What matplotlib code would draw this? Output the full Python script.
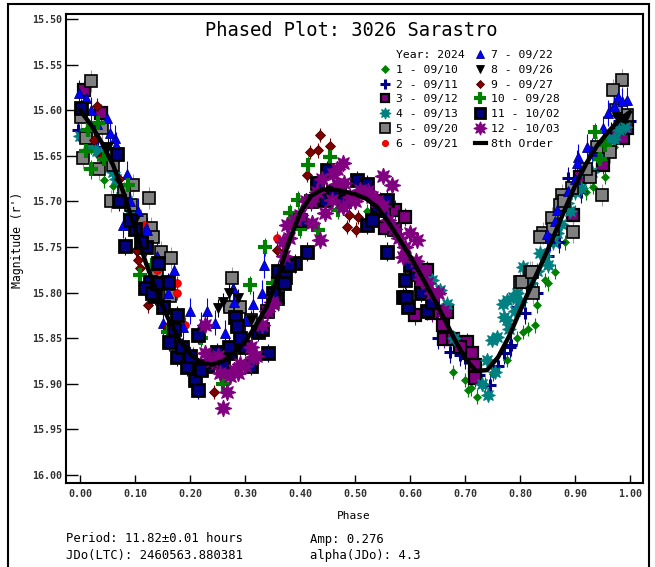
import matplotlib
matplotlib.use("Agg")
import matplotlib.pyplot as plt
from matplotlib.lines import Line2D
from matplotlib.patches import Rectangle

plt.rcParams['font.family'] = ['DejaVu Sans Mono']

# session labels (Year: 2024)
labels = ["1 - 09/10", "2 - 09/11", "3 - 09/12", "4 - 09/13", "5 - 09/20", "6 - 09/21",
          "7 - 09/22", "8 - 09/26", "9 - 09/27", "10 - 09/28", "11 - 10/02", "12 - 10/03"]

# phase / magnitude, one pair of lists per session
p1 = [0.678, 0.70, 0.705, 0.722, 0.736, 0.776, 0.795, 0.805, 0.827, 0.831, 0.845, 0.864, 0.882, 0.933, 0.955,
      0.044, 0.060, 0.081, 0.521, 0.71, 0.75, 0.815, 0.85, 0.90, 0.92, 0.97, 0.99, 0.02, 0.03]
m1 = [15.887, 15.896, 15.907, 15.914, 15.901, 15.874, 15.85, 15.843, 15.836, 15.814, 15.786, 15.777, 15.745, 15.684, 15.673,
      15.677, 15.683, 15.700, 15.711, 15.905, 15.889, 15.840, 15.790, 15.712, 15.690, 15.640, 15.628, 15.640, 15.648]

p2 = [0.651, 0.673, 0.745, 0.782, 0.795, 0.809, 0.783, 0.887, 1.0, -0.004, 0.62, 0.70, 0.725, 0.76, 0.77,
      0.83, 0.85, 0.87, 0.91, 0.94, 0.965, 0.98, 0.01, 0.03, 0.69]
m2 = [15.85, 15.865, 15.901, 15.86, 15.816, 15.822, 15.857, 15.674, 15.612, 15.622, 15.790, 15.872, 15.890, 15.880, 15.866,
      15.800, 15.760, 15.745, 15.690, 15.650, 15.625, 15.612, 15.625, 15.640, 15.868]

p3 = [0.555, 0.573, 0.591, 0.609, 0.631, 0.64, 0.66, 0.661, 0.667, 0.678, 0.704, 0.713, 0.718, 0.719,
      0.896, 0.909, 0.951, 0.976, 0.987, 0.007, 0.038, 0.62, 0.69, 0.545, 0.995]
m3 = [15.729, 15.709, 15.717, 15.825, 15.775, 15.822, 15.835, 15.851, 15.821, 15.851, 15.854, 15.866, 15.879, 15.894,
      15.715, 15.673, 15.660, 15.627, 15.630, 15.578, 15.603, 15.79, 15.86, 15.70, 15.62]

p4 = [0.64, 0.655, 0.667, 0.74, 0.742, 0.749, 0.755, 0.758, 0.769, 0.770, 0.776, 0.777, 0.787, 0.795, 0.805, 0.818,
      0.836, 0.867, 0.885, 0.90, 0.92, 0.94, 0.96, 0.98, 0.0, 0.02, 0.04, 0.06, 0.075, 0.09, 0.11, 0.73, 0.81, 0.85, 0.68,
      0.78, 0.79, 0.80, 0.82, 0.83, 0.845, 0.86, 0.875, 0.89, 0.91, 0.93, 0.95, 0.97, 0.99, 0.015, 0.03, 0.05, 0.065,
      0.085, 0.10]
m4 = [15.786, 15.797, 15.812, 15.874, 15.912, 15.852, 15.887, 15.849, 15.812, 15.827, 15.830, 15.808, 15.805, 15.800,
      15.772, 15.779, 15.757, 15.735, 15.702, 15.690, 15.668, 15.650, 15.632, 15.622, 15.628, 15.640, 15.650, 15.668,
      15.695, 15.715, 15.740, 15.900, 15.790, 15.770, 15.850,
      15.840, 15.820, 15.810, 15.790, 15.776, 15.760, 15.745, 15.725, 15.710, 15.685, 15.668, 15.645, 15.632, 15.618,
      15.630, 15.645, 15.655, 15.675, 15.700, 15.725]

p5 = [0.985, 0.969, 0.995, 0.964, 0.927, 0.949, 0.895, 0.876, 0.873, 0.858, 0.896, 0.842, 0.818, 0.80, 0.804, 0.822,
      0.824, 0.836, 0.02, 0.002, 0.005, 0.035, 0.056, 0.093, 0.096, 0.125, 0.129, 0.133, 0.147, 0.165, 0.164, 0.276,
      0.273, 0.291, 0.31, 0.01, 0.04, 0.06, 0.08, 0.11, 0.14, 0.92, 0.94, 0.975, 0.86, 0.88]
m5 = [15.567, 15.578, 15.605, 15.646, 15.673, 15.693, 15.685, 15.693, 15.704, 15.718, 15.734, 15.735, 15.777, 15.788,
      15.788, 15.777, 15.80, 15.739, 15.568, 15.607, 15.652, 15.665, 15.70, 15.704, 15.682, 15.696, 15.729, 15.739,
      15.755, 15.762, 15.804, 15.784, 15.816, 15.816, 15.83, 15.63, 15.62, 15.66, 15.69, 15.72, 15.78, 15.665, 15.64,
      15.60, 15.73, 15.70]

p6 = [0.116, 0.124, 0.176, 0.177, 0.358, 0.14, 0.19, 0.205, 0.235, 0.30]
m6 = [15.726, 15.748, 15.79, 15.80, 15.74, 15.775, 15.835, 15.868, 15.875, 15.85]

p7 = [-0.002, 0.011, 0.049, 0.064, 0.065, 0.078, 0.12, 0.122, 0.17, 0.151, 0.187, 0.245, 0.264, 0.278, 0.315, 0.978,
      0.995, 0.96, 0.922, 0.905, 0.904, 0.887, 0.867, 0.864, 0.849, 0.855, 0.09, 0.2, 0.23, 0.3, 0.33, 0.335,
      0.02, 0.03, 0.055, 0.085, 0.105, 0.14, 0.16, 0.9, 0.93, 0.95, 0.97, 0.985, 0.22, 0.28]
m7 = [15.581, 15.587, 15.609, 15.63, 15.638, 15.726, 15.729, 15.731, 15.775, 15.833, 15.838, 15.833, 15.844, 15.795,
      15.812, 15.585, 15.589, 15.603, 15.64, 15.651, 15.658, 15.689, 15.709, 15.722, 15.736, 15.74, 15.70, 15.82, 15.82,
      15.83, 15.80, 15.77, 15.60, 15.615, 15.625, 15.67, 15.71, 15.76, 15.80, 15.675, 15.645, 15.62, 15.595, 15.59,
      15.835, 15.81]

p8 = [0.976, 0.251, 0.287, 0.26, 0.27, 0.10, 0.05, 0.99, 0.31]
m8 = [15.607, 15.817, 15.806, 15.81, 15.80, 15.72, 15.64, 15.61, 15.83]

p9 = [0.031, 0.025, 0.038, 0.102, 0.105, 0.109, 0.103, 0.124, 0.158, 0.244, 0.358, 0.413, 0.418, 0.433, 0.436, 0.455,
      0.485, 0.502, 0.489, 0.505, 0.19, 0.21, 0.33, 0.37, 0.07]
m9 = [15.595, 15.633, 15.651, 15.753, 15.764, 15.773, 15.753, 15.814, 15.838, 15.909, 15.753, 15.671, 15.646, 15.644,
      15.627, 15.639, 15.728, 15.731, 15.715, 15.717, 15.86, 15.88, 15.84, 15.755, 15.675]

p10 = [0.015, 0.033, 0.011, 0.02, 0.044, 0.087, 0.109, 0.16, 0.309, 0.336, 0.415, 0.455, 0.382, 0.396, 0.431, 0.433,
       0.469, 0.936, 0.955, 0.945, 0.22, 0.26, 0.29, 0.35, 0.36, 0.13, 0.4]
m10 = [15.622, 15.614, 15.645, 15.665, 15.654, 15.682, 15.781, 15.843, 15.792, 15.75, 15.66, 15.651, 15.713, 15.699,
       15.68, 15.731, 15.709, 15.624, 15.638, 15.654, 15.85, 15.90, 15.86, 15.79, 15.81, 15.77, 15.73]

p11 = [0.002, 0.067, 0.082, 0.142, 0.127, 0.16, 0.118, 0.136, 0.151, 0.176, 0.161, 0.177, 0.194, 0.209, 0.214, 0.215,
       0.282, 0.285, 0.249, 0.273, 0.342, 0.324, 0.36, 0.449, 0.504, 0.521, 0.445, 0.558, 0.551, 0.522, 0.413, 0.391,
       0.373, 0.358, 0.587, 0.559, 0.591, 0.597, 0.592, 0.23, 0.26, 0.30, 0.31, 0.35, 0.40, 0.43, 0.47, 0.53, 0.61,
       0.63, 0.10, 0.12, 0.09, 0.13, 0.14, 0.17, 0.185, 0.20, 0.22, 0.24, 0.27, 0.29, 0.33, 0.34, 0.37, 0.38, 0.42,
       0.46, 0.48, 0.54, 0.57, 0.60, 0.62, 0.64, 0.07, 0.11]
m11 = [15.598, 15.648, 15.749, 15.768, 15.788, 15.788, 15.795, 15.804, 15.816, 15.825, 15.854, 15.871, 15.882, 15.896,
       15.907, 15.846, 15.827, 15.837, 15.865, 15.866, 15.866, 15.843, 15.776, 15.666, 15.677, 15.681, 15.698, 15.698,
       15.709, 15.726, 15.755, 15.768, 15.783, 15.806, 15.805, 15.755, 15.786, 15.816, 15.805, 15.88, 15.88, 15.86,
       15.88, 15.80, 15.72, 15.68, 15.69, 15.72, 15.78, 15.82, 15.73, 15.75, 15.72, 15.80, 15.79, 15.84, 15.86, 15.87,
       15.885, 15.875, 15.86, 15.85, 15.84, 15.82, 15.79, 15.77, 15.70, 15.69, 15.70, 15.705, 15.73, 15.77, 15.80,
       15.81, 15.70, 15.745]

p12 = [0.227, 0.228, 0.255, 0.273, 0.287, 0.267, 0.26, 0.315, 0.349, 0.467, 0.478, 0.551, 0.567, 0.509, 0.524, 0.468,
       0.458, 0.445, 0.436, 0.422, 0.376, 0.369, 0.479, 0.6, 0.613, 0.587, 0.618, 0.631, 0.351, 0.30, 0.33, 0.39, 0.41,
       0.43, 0.50, 0.54, 0.58, 0.65, 0.66, 0.24, 0.28, 0.32, 0.37, 0.38, 0.40, 0.42, 0.44, 0.46, 0.48, 0.49, 0.51,
       0.53, 0.55, 0.56, 0.57, 0.59, 0.61, 0.62, 0.64, 0.25, 0.29, 0.31, 0.34]
m12 = [15.835, 15.866, 15.888, 15.892, 15.888, 15.909, 15.927, 15.871, 15.81, 15.664, 15.658, 15.672, 15.682, 15.687,
       15.689, 15.681, 15.699, 15.713, 15.742, 15.724, 15.726, 15.745, 15.706, 15.735, 15.742, 15.761, 15.775, 15.79,
       15.812, 15.88, 15.835, 15.72, 15.70, 15.69, 15.70, 15.70, 15.74, 15.80, 15.82, 15.875, 15.885, 15.87, 15.76,
       15.74, 15.715, 15.70, 15.675, 15.67, 15.68, 15.695, 15.69, 15.695, 15.705, 15.72, 15.73, 15.75, 15.765, 15.785,
       15.80, 15.87, 15.878, 15.86, 15.82]

# typical error bar per session
errs = [0.008, 0.012, 0.010, 0.008, 0.012, 0.008, 0.014, 0.010, 0.008, 0.010, 0.010, 0.008]

# 8th order fit
fit_phase = [0.00, 0.02, 0.04, 0.06, 0.08, 0.10, 0.12, 0.14, 0.16, 0.18, 0.20, 0.22, 0.24, 0.26, 0.28, 0.30, 0.32,
             0.34, 0.36, 0.38, 0.40, 0.42, 0.44, 0.46, 0.48, 0.50, 0.52, 0.54, 0.56, 0.58, 0.60, 0.62, 0.64, 0.66,
             0.68, 0.70, 0.72, 0.74, 0.76, 0.78, 0.80, 0.82, 0.84, 0.86, 0.88, 0.90, 0.92, 0.94, 0.96, 0.98, 1.00]
fit_mag = [15.600, 15.616, 15.636, 15.660, 15.692, 15.730, 15.768, 15.800, 15.828, 15.851, 15.867, 15.877, 15.879,
           15.875, 15.866, 15.854, 15.836, 15.815, 15.782, 15.744, 15.713, 15.694, 15.687, 15.687, 15.689, 15.692,
           15.697, 15.706, 15.722, 15.741, 15.760, 15.781, 15.803, 15.826, 15.850, 15.872, 15.886, 15.885, 15.871,
           15.848, 15.820, 15.793, 15.767, 15.740, 15.711, 15.683, 15.659, 15.639, 15.624, 15.611, 15.602]

phases = [p1, p2, p3, p4, p5, p6, p7, p8, p9, p10, p11, p12]
mags = [m1, m2, m3, m4, m5, m6, m7, m8, m9, m10, m11, m12]

star = (8, 1, 0)
styles = [
    dict(marker='D', ms=4.5, mfc='#008000', mec='#008000', mew=0.5),
    dict(marker='+', ms=9, mfc='#00008b', mec='#00008b', mew=2.2),
    dict(marker='s', ms=8, mfc='#800080', mec='black', mew=1.6),
    dict(marker=star, ms=10, mfc='#008080', mec='#008080', mew=0.8),
    dict(marker='s', ms=8.5, mfc='#808080', mec='black', mew=1.2),
    dict(marker='o', ms=5.5, mfc='#ff0000', mec='#c00000', mew=0.6),
    dict(marker='^', ms=7.5, mfc='#0000ff', mec='#000080', mew=0.6),
    dict(marker='v', ms=7.5, mfc='black', mec='black', mew=0.6),
    dict(marker='D', ms=5.5, mfc='#800000', mec='#400000', mew=0.6),
    dict(marker='+', ms=10, mfc='#008000', mec='#008000', mew=3),
    dict(marker='s', ms=9, mfc='#000080', mec='black', mew=2),
    dict(marker=star, ms=12, mfc='#800080', mec='#800080', mew=0.8),
]
ecolors = ['#008000', '#00008b', '#800080', '#008080', '#a0a0a0', '#ff0000',
           '#0000ff', 'black', '#800000', '#008000', '#000080', '#800080']

fig = plt.figure(figsize=(6.55, 5.67), dpi=100)
ax = fig.add_axes([66 / 655, 1 - 483 / 567, (643 - 66) / 655, (483 - 14) / 567])

for i in range(12):
    ax.errorbar(phases[i], mags[i], yerr=errs[i], fmt='none', ecolor=ecolors[i],
                elinewidth=0.8, capsize=0, zorder=2 + i * 0.1)
    ax.plot(phases[i], mags[i], linestyle='none', zorder=3 + i * 0.1, **styles[i])

ax.plot(fit_phase, fit_mag, color='black', lw=3.2, solid_capstyle='round', zorder=10)

ax.set_xlim(-0.0255, 1.0236)
ax.set_ylim(16.0088, 15.4945)
ax.set_xticks([i / 10 for i in range(11)])
ax.set_yticks([15.50 + 0.05 * i for i in range(11)])
ax.xaxis.set_major_formatter(plt.FormatStrFormatter('%.2f'))
ax.yaxis.set_major_formatter(plt.FormatStrFormatter('%.2f'))
ax.tick_params(axis='y', direction='in', length=8.5, width=1, pad=2.5, labelsize=7.2, labelcolor='#333333')
ax.tick_params(axis='x', direction='in', length=6, width=1, pad=4.5, labelsize=7.2, labelcolor='#333333')
for lab in ax.get_xticklabels() + ax.get_yticklabels():
    lab.set_fontweight('bold')
for sp in ax.spines.values():
    sp.set_linewidth(1.5)

fig.text(351 / 655, 1 - 30 / 567, "Phased Plot: 3026 Sarastro", ha='center', va='center', fontsize=13.5)
fig.text(354 / 655, 1 - 516 / 567, "Phase", ha='center', va='center', fontsize=8)
fig.text(18 / 655, 1 - 240 / 567, "Magnitude (r')", ha='center', va='center', rotation=90, fontsize=8.3)

fig.text(66 / 655, 1 - 539 / 567, "Period: 11.82\u00b10.01 hours", ha='left', va='center', fontsize=8.8)
fig.text(66 / 655, 1 - 556 / 567, "JDo(LTC): 2460563.880381", ha='left', va='center', fontsize=8.8)
fig.text(310 / 655, 1 - 539 / 567, "Amp: 0.276", ha='left', va='center', fontsize=8.8)
fig.text(310 / 655, 1 - 556 / 567, "alpha(JDo): 4.3", ha='left', va='center', fontsize=8.8)

# legend: header row + 12 sessions + fit line
handles = [Line2D([], [], linestyle='none')]
names = ["Year: 2024"]
for i in range(12):
    handles.append(Line2D([], [], linestyle='none', **styles[i]))
    names.append(labels[i])
handles.append(Line2D([], [], color='black', lw=3))
names.append("8th Order")
fig.legend(handles, names, ncol=2, loc='upper left', bbox_to_anchor=(379 / 655, 1 - 50 / 567),
           frameon=False, fontsize=8.2, handlelength=1.0, handletextpad=0.45, columnspacing=0.9,
           labelspacing=0.42, borderpad=0, borderaxespad=0, markerscale=0.8)

# outer frame around the whole picture
fig.patches.append(Rectangle((8 / 655, -0.02), (649 - 8) / 655, 1 - 4 / 567 + 0.02,
                             transform=fig.transFigure, fill=False, lw=1.5, edgecolor='black'))

fig.savefig("out.png", dpi=100)
